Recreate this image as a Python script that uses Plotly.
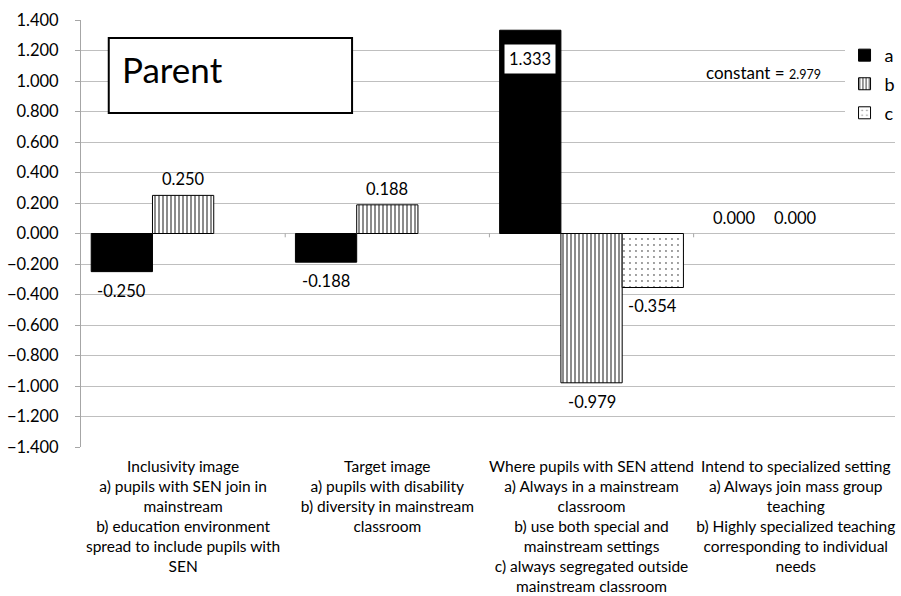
import plotly.graph_objects as go

categories = [
    "Inclusivity image<br>a) pupils with SEN join in<br>mainstream<br>b) education environment<br>spread to include pupils with<br>SEN",
    "Target image<br>a) pupils with disability<br>b) diversity in mainstream<br>classroom",
    "Where pupils with SEN attend<br>a) Always in a mainstream<br>classroom<br>b) use both special and<br>mainstream settings<br>c) always segregated outside<br>mainstream classroom",
    "Intend to specialized setting<br>a) Always join mass group<br>teaching<br>b) Highly specialized teaching<br>corresponding to individual<br>needs",
]
series_names = ["a", "b", "c"]
values_a = [-0.250, -0.188, 1.333, 0.000]
values_b = [0.250, 0.188, -0.979, 0.000]
values_c = [None, None, -0.354, None]
y_ticks = [-1.4, -1.2, -1.0, -0.8, -0.6, -0.4, -0.2, 0.0, 0.2, 0.4, 0.6, 0.8, 1.0, 1.2, 1.4]
constant_value = 2.979
panel_title = "Parent"

series_values = [values_a, values_b, values_c]
offsets = [-0.3, 0.0, 0.3]
bar_w = 0.3
idx = list(range(len(categories)))

FONT = "Lato, Liberation Sans, Arial, sans-serif"

fills = [
    dict(color="#000000"),
    dict(color="#ffffff",
         pattern=dict(shape="|", fgcolor="#000000", bgcolor="#ffffff", size=4, solidity=0.45)),
    dict(color="#ffffff",
         pattern=dict(shape=".", fgcolor="#000000", bgcolor="#ffffff", size=6, solidity=0.08)),
]

legend_names = ["legend", "legend2", "legend3"]
legend_y = [0.917, 0.850, 0.782]

fig = go.Figure()
for s, (name, vals) in enumerate(zip(series_names, series_values)):
    xs = [i + offsets[s] for i in idx]
    line_w = [0 if (v is not None and v == 0) else 1 for v in vals]
    marker = dict(fills[s])
    marker["line"] = dict(color="#000000", width=line_w)
    fig.add_trace(go.Bar(
        x=xs, y=vals, width=bar_w, name=name, marker=marker,
        legend=legend_names[s], showlegend=True, hoverinfo="skip",
    ))

annotations = []
ymax = max(y_ticks)
lab_font = dict(family=FONT, size=16.5, color="#000")
for s, vals in enumerate(series_values):
    for i, v in zip(idx, vals):
        if v is None:
            continue
        txt = f"{v:.3f}"
        x = i + offsets[s]
        if v > ymax - 0.2:
            annotations.append(dict(x=x, y=v, text=txt, showarrow=False, yanchor="top", yshift=-14,
                                    bgcolor="#ffffff", borderpad=4, font=lab_font))
        elif v >= 0:
            annotations.append(dict(x=x, y=v, text=txt, showarrow=False, yanchor="bottom", yshift=4,
                                    font=lab_font))
        else:
            annotations.append(dict(x=x, y=v, text=txt, showarrow=False, yanchor="top", yshift=-7,
                                    font=lab_font))

annotations.append(dict(xref="paper", yref="paper", x=0.0476, y=0.885, xanchor="left", yanchor="middle",
                        text=panel_title, showarrow=False,
                        font=dict(family=FONT, size=35, color="#000")))
annotations.append(dict(xref="paper", yref="paper", x=0.839, y=0.876, xanchor="center", yanchor="middle",
                        text=f"constant = <span style='font-size:12.5px'>{constant_value:.3f}</span>",
                        showarrow=False, font=dict(family=FONT, size=17, color="#000")))

shapes = [dict(type="rect", xref="paper", yref="paper", x0=0.0341, x1=0.333, y0=0.782, y1=0.958,
               line=dict(color="#000000", width=2), fillcolor="#ffffff", layer="above")]
for b in [i + 0.5 for i in idx[:-1]]:
    shapes.append(dict(type="line", xref="x", yref="y", x0=b, x1=b, y0=0, y1=-0.025,
                       line=dict(color="#a6a6a6", width=1)))

layout_legends = {}
for ln, ly in zip(legend_names, legend_y):
    layout_legends[ln] = dict(x=0.938, y=ly, xanchor="left", yanchor="middle", bgcolor="#ffffff",
                              font=dict(family=FONT, size=18, color="#000"),
                              itemwidth=30, borderwidth=0)

fig.update_layout(
    width=901, height=596,
    margin=dict(l=81, r=0, t=20, b=149),
    paper_bgcolor="#ffffff", plot_bgcolor="#ffffff",
    barmode="overlay",
    annotations=annotations, shapes=shapes,
    **layout_legends,
)
fig.update_xaxes(range=[-0.5, len(categories) - 0.514], tickvals=idx, ticktext=categories,
                 showgrid=False, zeroline=False, showline=False, ticks="", tickangle=0,
                 tickfont=dict(family=FONT, size=15.5, color="#000"), ticklabelstandoff=8)
fig.update_yaxes(range=[min(y_ticks), max(y_ticks)], tickvals=y_ticks, tickformat=".3f",
                 showgrid=True, gridcolor="#bfbfbf", gridwidth=1,
                 zeroline=True, zerolinecolor="#bfbfbf", zerolinewidth=1,
                 showline=True, linecolor="#a6a6a6", linewidth=1, ticks="outside", ticklen=5,
                 tickcolor="#a6a6a6", ticklabelstandoff=13,
                 tickfont=dict(family=FONT, size=16.5, color="#000"))

fig.write_html("out.html")
